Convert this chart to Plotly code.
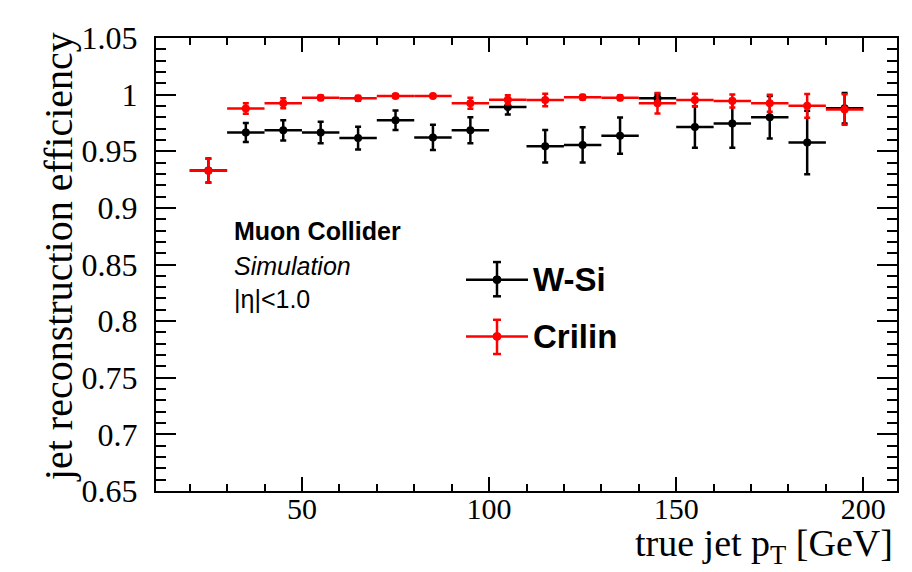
import plotly.graph_objects as go

# ---- data ----
pt_bins = [25, 35, 45, 55, 65, 75, 85, 95, 105, 115, 125, 135, 145, 155, 165, 175, 185, 195]
bin_half_width = [5] * 18
wsi_eff = [0.933, 0.9665, 0.9685, 0.9665, 0.9616, 0.9774, 0.9622, 0.9685, 0.989,
           0.9544, 0.9556, 0.9637, 0.9967, 0.9714, 0.9746, 0.980, 0.9578, 0.988]
wsi_err = [0.0106, 0.0084, 0.0089, 0.0095, 0.0101, 0.0086, 0.0112, 0.0115, 0.0065,
           0.0144, 0.0156, 0.016, 0.004, 0.0184, 0.0216, 0.0187, 0.028, 0.0135]
crilin_eff = [0.9328, 0.9878, 0.9924, 0.9973, 0.9967, 0.9988, 0.9988, 0.9924, 0.9955,
              0.9953, 0.9976, 0.9973, 0.9924, 0.9953, 0.9944, 0.9924, 0.9901, 0.9869]
crilin_err = [0.0106, 0.0046, 0.0045, 0.002, 0.002, 0.0015, 0.0015, 0.0048, 0.004,
              0.0055, 0.002, 0.002, 0.009, 0.0055, 0.0058, 0.0076, 0.0105, 0.0135]

y_tickvals = [0.65, 0.7, 0.75, 0.8, 0.85, 0.9, 0.95, 1.0, 1.05]
y_ticktext = ["0.65", "0.7", "0.75", "0.8", "0.85", "0.9", "0.95", "1", "1.05"]
x_tickvals = [50, 100, 150, 200]
x_ticktext = ["50", "100", "150", "200"]

series_names = ["W-Si", "Crilin"]
series_colors = ["#000000", "#ff0000"]

W, H = 912, 572
L, R, T, B = 148, 23, 20, 89
PW, PH = W - L - R, H - T - B


def px(x):
    return (x - L) / PW


def py(y):
    return (T + PH - y) / PH


fig = go.Figure()
for name, eff, err, col in [(series_names[0], wsi_eff, wsi_err, series_colors[0]),
                            (series_names[1], crilin_eff, crilin_err, series_colors[1])]:
    fig.add_trace(go.Scatter(
        x=pt_bins, y=eff, mode="markers", name=name, showlegend=False,
        marker=dict(color=col, size=8, symbol="circle"),
        error_x=dict(type="data", array=bin_half_width, color=col, thickness=2.5, width=0),
        error_y=dict(type="data", array=err, color=col, thickness=2.5, width=3),
    ))

serif = "Liberation Serif"
sans = "Liberation Sans"

fig.update_layout(
    width=W, height=H,
    margin=dict(l=L, r=R, t=T, b=B),
    paper_bgcolor="white", plot_bgcolor="white",
    xaxis=dict(range=[11, 209], tickvals=x_tickvals, ticktext=x_ticktext,
               ticks="inside", ticklen=14, tickwidth=2, tickcolor="black",
               showline=True, linewidth=2, linecolor="black", mirror="allticks",
               showgrid=False, zeroline=False,
               tickfont=dict(family=serif, size=30, color="black"),
               ticklabelstandoff=-10,
               minor=dict(dtick=10, tick0=0, ticks="inside", ticklen=7, tickwidth=2,
                          tickcolor="black", showgrid=False)),
    yaxis=dict(range=[0.65, 1.05], tickvals=y_tickvals, ticktext=y_ticktext,
               ticks="inside", ticklen=20, tickwidth=2, tickcolor="black",
               showline=True, linewidth=2, linecolor="black", mirror="allticks",
               showgrid=False, zeroline=False,
               tickfont=dict(family=serif, size=32, color="black"),
               ticklabelstandoff=10,
               minor=dict(dtick=0.01, tick0=0.65, ticks="inside", ticklen=10, tickwidth=2,
                          tickcolor="black", showgrid=False)),
)

annotations = [
    dict(text="jet reconstruction efficiency", x=px(50), y=py(244), textangle=-90,
         xanchor="center", yanchor="middle", font=dict(family=serif, size=40, color="black")),
    dict(text="true jet p<sub>T</sub> [GeV]", x=px(887), y=py(513), xanchor="right",
         yanchor="top", font=dict(family=serif, size=38, color="black")),
    dict(text="<b>Muon Collider</b>", x=px(224), y=py(217), xanchor="left", yanchor="middle",
         font=dict(family=sans, size=25, color="black")),
    dict(text="<i>Simulation</i>", x=px(224), y=py(253), xanchor="left", yanchor="middle",
         font=dict(family=sans, size=25, color="black")),
    dict(text="|η|<1.0", x=px(224), y=py(287), xanchor="left", yanchor="middle",
         font=dict(family=sans, size=25, color="black")),
]

shapes = []
leg_rows = [(267, 249, 284), (325, 308, 343)]
for (yc, ylo, yhi), name, col in zip(leg_rows, series_names, series_colors):
    shapes.append(dict(type="line", xref="paper", yref="paper", x0=px(458), x1=px(520),
                       y0=py(yc), y1=py(yc), line=dict(color=col, width=2.5)))
    shapes.append(dict(type="line", xref="paper", yref="paper", x0=px(489), x1=px(489),
                       y0=py(ylo), y1=py(yhi), line=dict(color=col, width=2.5)))
    for yy in (ylo, yhi):
        shapes.append(dict(type="line", xref="paper", yref="paper", x0=px(485), x1=px(493),
                           y0=py(yy), y1=py(yy), line=dict(color=col, width=2.5)))
    shapes.append(dict(type="circle", xref="paper", yref="paper", x0=px(485), x1=px(493),
                       y0=py(yc + 4), y1=py(yc - 4), fillcolor=col, line=dict(color=col, width=1)))
    annotations.append(dict(text="<b>" + name + "</b>", x=px(523), y=py(yc), xanchor="left",
                            yanchor="middle", font=dict(family=sans, size=33, color="black")))

fig.update_layout(annotations=[dict(a, xref="paper", yref="paper", showarrow=False) for a in annotations],
                  shapes=shapes)

fig.write_html("out.html")
